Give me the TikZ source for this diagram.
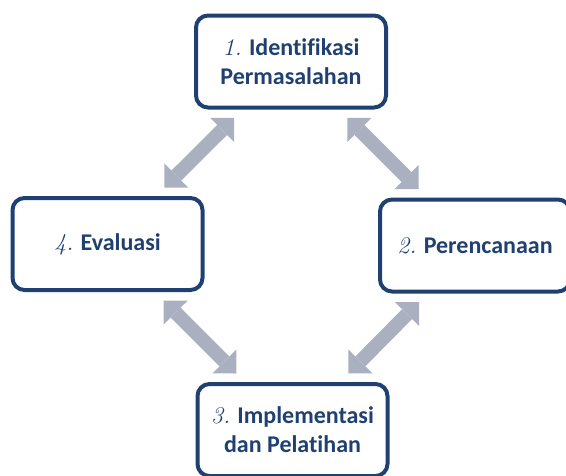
\documentclass[tikz,border=0pt]{standalone}
\usepackage{fontspec}
\newfontfamily\boxfont[Ligatures=NoCommon]{Carlito}
\usetikzlibrary{arrows.meta}

\definecolor{boxblue}{RGB}{31,64,112}
\definecolor{arrowgray}{RGB}{170,176,192}

\begin{document}
\begin{tikzpicture}[x=1pt, y=-1pt,
    stage/.style={draw=boxblue, line width=4pt, rounded corners=12pt,
        minimum width=190pt, minimum height=92pt, inner sep=2pt,
        align=center, text=boxblue,
        font=\boxfont\bfseries\fontsize{24}{29}\selectfont},
    link/.style={arrowgray, line width=14pt, shorten <=12pt, shorten >=12pt,
        {Triangle[width=34pt, length=17pt, line width=0pt]}-{Triangle[width=34pt, length=17pt, line width=0pt]}}]

    % Fix the frame of the picture
    \useasboundingbox (0,0) rectangle (566,475);

    % Centres of the four stages
    \coordinate (C1) at (291,61.5);
    \coordinate (C2) at (475,245.5);
    \coordinate (C3) at (292.5,430);
    \coordinate (C4) at (107.5,244);

    % Stages of the cycle
    \node[stage] (ident) at (C1) {\textnormal{\itshape 1.} Identifikasi\\Permasalahan};
    \node[stage] (plan)  at (C2) {\textnormal{\itshape 2.} Perencanaan};
    \node[stage] (impl)  at (C3) {\textnormal{\itshape 3.} Implementasi\\dan Pelatihan};
    \node[stage] (eval)  at (C4) {\textnormal{\itshape 4.} Evaluasi};

    % Two-way arrows between the stages
    \draw[link] (eval) -- (ident);
    \draw[link] (ident) -- (plan);
    \draw[link] (plan) -- (impl);
    \draw[link] (impl) -- (eval);

\end{tikzpicture}
\end{document}
